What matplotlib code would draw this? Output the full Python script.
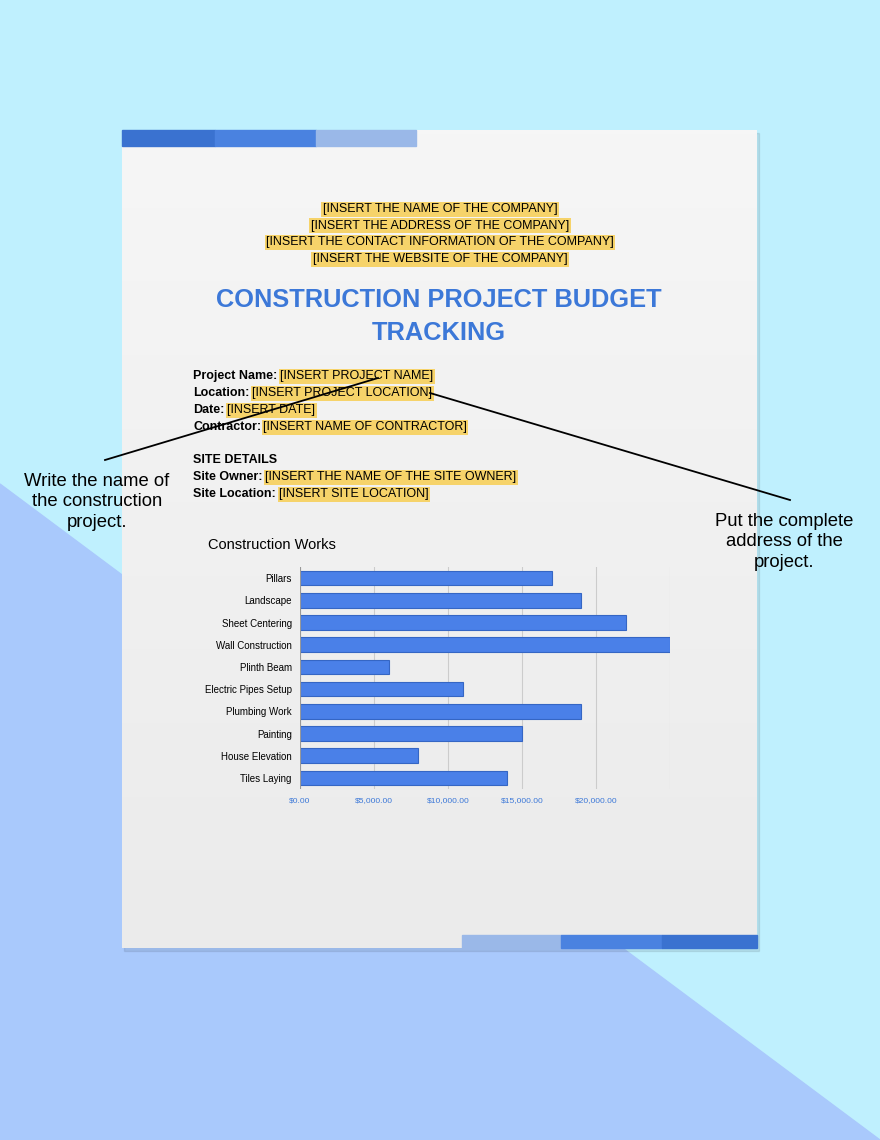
import matplotlib
matplotlib.use("Agg")
import matplotlib.pyplot as plt
from matplotlib.patches import Rectangle, Polygon
import numpy as np

categories = ["Pillars", "Landscape", "Sheet Centering", "Wall Construction", "Plinth Beam",
              "Electric Pipes Setup", "Plumbing Work", "Painting", "House Elevation", "Tiles Laying"]
costs = [17000, 19000, 22000, 25000, 6000, 11000, 19000, 15000, 8000, 14000]
tick_vals = [0, 5000, 10000, 15000, 20000, 25000]
tick_labels = ["$0.00", "$5,000.00", "$10,000.00", "$15,000.00", "$20,000.00", ""]

header_lines = ["[INSERT THE NAME OF THE COMPANY]", "[INSERT THE ADDRESS OF THE COMPANY]",
                "[INSERT THE CONTACT INFORMATION OF THE COMPANY]", "[INSERT THE WEBSITE OF THE COMPANY]"]
fields = [("Project Name:", "[INSERT PROJECT NAME]", 376, 280),
          ("Location:", "[INSERT PROJECT LOCATION]", 393, 252),
          ("Date:", "[INSERT DATE]", 410, 227),
          ("Contractor:", "[INSERT NAME OF CONTRACTOR]", 427, 263),
          ("Site Owner:", "[INSERT THE NAME OF THE SITE OWNER]", 477, 265),
          ("Site Location:", "[INSERT SITE LOCATION]", 494, 279)]

W, H = 880, 1140
fig = plt.figure(figsize=(8.8, 11.4), dpi=100)
fig.patch.set_facecolor("#bff0fe")
ax = fig.add_axes([0, 0, 1, 1])
ax.set_xlim(0, W); ax.set_ylim(H, 0); ax.axis("off")
FONT = "Liberation Sans"

ax.add_patch(Polygon([(0, 484), (880, 1140), (0, 1140)], color="#a9c9fc", zorder=0))
ax.add_patch(Rectangle((124, 133), 635, 818, color="#000000", alpha=0.08, zorder=1))
grad = np.linspace(0, 1, 200).reshape(-1, 1)
ax.imshow(grad, extent=(122, 757, 948, 130),
          cmap=matplotlib.colors.LinearSegmentedColormap.from_list("g", ["#f6f6f6", "#ebebeb"]),
          aspect="auto", zorder=2)
ax.set_xlim(0, W); ax.set_ylim(H, 0)
for x0, x1, c in [(122, 215, "#3a72d0"), (215, 316, "#4a82e0"), (316, 416, "#9ab8e8")]:
    ax.add_patch(Rectangle((x0, 130), x1 - x0, 16, color=c, zorder=3))
for x0, x1, c in [(462, 561, "#9ab8e8"), (561, 662, "#4a82e0"), (662, 757, "#3a72d0")]:
    ax.add_patch(Rectangle((x0, 935), x1 - x0, 13, color=c, zorder=3))

hl = dict(boxstyle="square,pad=0.12", fc="#f6d36a", ec="none")
for i, t in enumerate(header_lines):
    ax.text(440, 209 + i * 16.7, t, ha="center", va="center", fontsize=9, family=FONT, bbox=hl, zorder=5)
ax.text(439, 300, "CONSTRUCTION PROJECT BUDGET", ha="center", va="center", fontsize=18.3,
        fontweight="bold", color="#3c78d8", family=FONT, zorder=5)
ax.text(439, 333, "TRACKING", ha="center", va="center", fontsize=18.3,
        fontweight="bold", color="#3c78d8", family=FONT, zorder=5)
for lab, val, y, xv in fields:
    ax.text(193, y, lab, ha="left", va="center", fontsize=9, fontweight="bold", family=FONT, zorder=5)
    ax.text(xv, y, val, ha="left", va="center", fontsize=9, family=FONT, bbox=hl, zorder=5)
ax.text(193, 460, "SITE DETAILS", ha="left", va="center", fontsize=9, fontweight="bold", family=FONT, zorder=5)

ax.plot([105, 378], [460, 378], color="black", lw=1.3, zorder=6)
ax.plot([430, 790], [393, 500], color="black", lw=1.3, zorder=6)
ax.text(97, 502, "Write the name of\nthe construction\nproject.", ha="center", va="center",
        fontsize=13.3, family=FONT, linespacing=1.25, zorder=6)
ax.text(784, 542, "Put the complete\naddress of the\nproject.", ha="center", va="center",
        fontsize=13.3, family=FONT, linespacing=1.25, zorder=6)
ax.text(208, 545, "Construction Works", ha="left", va="center", fontsize=10.5, family=FONT, zorder=6)

left, right, top, bottom = 300, 670, 567, 789
bx = fig.add_axes([left / W, 1 - bottom / H, (right - left) / W, (bottom - top) / H])
bx.patch.set_alpha(0)
y = np.arange(len(categories))
bx.barh(y, costs, height=0.65, color="#4a80e8", edgecolor="#3566c4", linewidth=0.8, zorder=3)
bx.set_ylim(len(categories) - 0.5, -0.5)
bx.set_xlim(0, 25000)
bx.set_yticks(y); bx.set_yticklabels(categories, fontsize=7, family=FONT)
bx.set_xticks(tick_vals); bx.set_xticklabels(tick_labels, fontsize=6, family=FONT, color="#3c78d8")
bx.tick_params(length=0, pad=6)
bx.grid(axis="x", color="#cccccc", lw=0.8, zorder=0)
for s in bx.spines.values():
    s.set_visible(False)
bx.axvline(0, color="#999999", lw=0.8, zorder=4)

fig.savefig("out.png", dpi=100)
